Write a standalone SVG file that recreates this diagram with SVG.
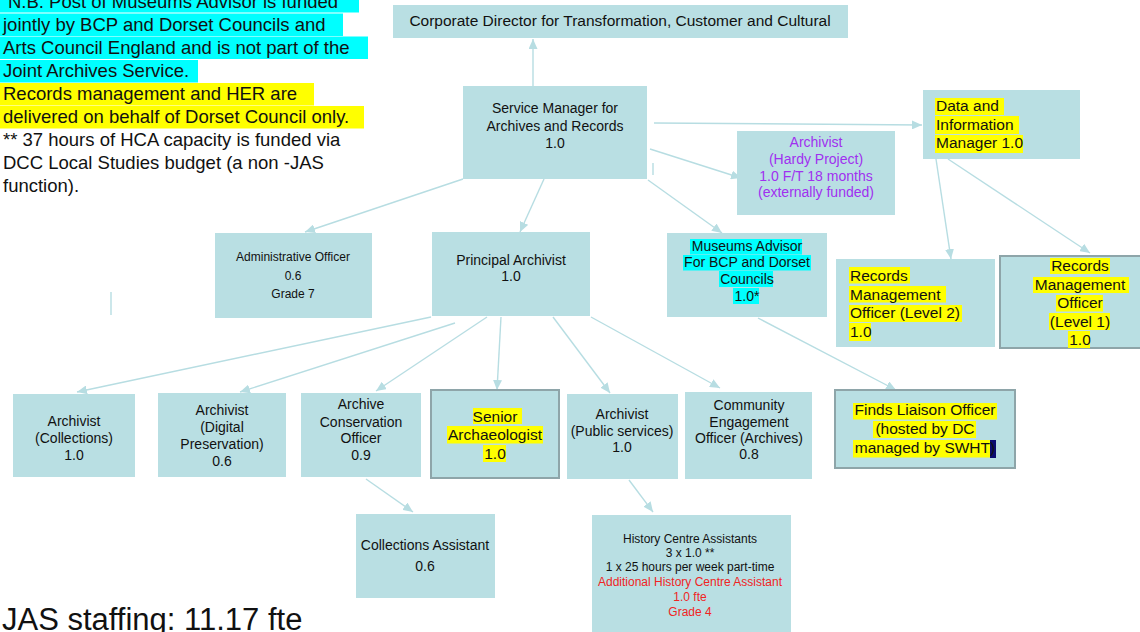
<svg xmlns="http://www.w3.org/2000/svg" width="1140" height="632" viewBox="0 0 1140 632">
  <style>
    .box { fill: #B9DFE3; }
    .framed { fill: #B9DFE3; stroke: #8EA5A9; stroke-width: 2; }
    .t { font-family: "Liberation Sans", Arial, sans-serif; fill: #111; text-anchor: middle; font-size: 14px; }
    .s { font-size: 12px; }
    .big { font-size: 15.5px; }
    .left { text-anchor: start; }
    .purple { fill: #A030F0; }
    .red { fill: #F02424; }
    .yl { fill: #FFFF00; }
    .cy { fill: #00FFFF; }
    .note { font-family: "Liberation Sans", Arial, sans-serif; fill: #111; font-size: 18.5px; }
    .link { stroke: #B7DDE2; stroke-width: 1.4; fill: none; marker-end: url(#arrow); }
    .plain { stroke: #B7DDE2; stroke-width: 1.4; fill: none; }
  </style>
  <defs>
    <marker id="arrow" viewBox="0 0 10 9" refX="10" refY="4.5" markerWidth="10" markerHeight="9" markerUnits="userSpaceOnUse" orient="auto">
      <path d="M0,0 L10,4.5 L0,9 z" fill="#B7DDE2"/>
    </marker>
  </defs>

  <rect width="1140" height="632" fill="#FFFFFF"/>

  <!-- funding notes -->
  <g id="notes">
    <rect class="cy" x="0" y="-10" width="359" height="22.5"/>
    <rect class="cy" x="0" y="13.5" width="343" height="22.5"/>
    <rect class="cy" x="0" y="36.5" width="368" height="22.5"/>
    <rect class="cy" x="0" y="60" width="198" height="22.5"/>
    <rect class="yl" x="0" y="83" width="314" height="22.5"/>
    <rect class="yl" x="0" y="106" width="364" height="22.5"/>
    <text class="note" x="8" y="8">N.B. Post of Museums Advisor is funded</text>
    <text class="note" x="3" y="31">jointly by BCP and Dorset Councils and</text>
    <text class="note" x="3" y="54">Arts Council England and is not part of the</text>
    <text class="note" x="3" y="77">Joint Archives Service.</text>
    <text class="note" x="3" y="100">Records management and HER are</text>
    <text class="note" x="3" y="123">delivered on behalf of Dorset Council only.</text>
    <text class="note" x="3" y="146">** 37 hours of HCA capacity is funded via</text>
    <text class="note" x="3" y="169">DCC Local Studies budget (a non -JAS</text>
    <text class="note" x="3" y="192">function).</text>
  </g>

  <g id="total">
    <text class="note" x="2" y="630" style="font-size:31px">JAS staffing: 11.17 fte</text>
  </g>

  <!-- reporting lines -->
  <g id="connectors">
    <line class="link" x1="533" y1="86" x2="533" y2="39"/>
    <line class="link" x1="654" y1="123" x2="922" y2="125"/>
    <line class="link" x1="650" y1="149" x2="741" y2="178"/>
    <line class="plain" x1="653" y1="163" x2="653" y2="175"/>
    <line class="link" x1="463" y1="179" x2="305" y2="232"/>
    <line class="link" x1="544" y1="179" x2="520" y2="232"/>
    <line class="link" x1="648" y1="180" x2="722" y2="233"/>
    <line class="link" x1="936" y1="159" x2="951" y2="259"/>
    <line class="link" x1="948" y1="159" x2="1090" y2="253"/>
    <line class="link" x1="758" y1="318" x2="896" y2="390"/>
    <line class="link" x1="431" y1="317" x2="77" y2="392"/>
    <line class="link" x1="455" y1="323" x2="240" y2="392"/>
    <line class="link" x1="487" y1="317" x2="376" y2="391"/>
    <line class="link" x1="501" y1="317" x2="497" y2="390"/>
    <line class="link" x1="553" y1="317" x2="610" y2="393"/>
    <line class="link" x1="591" y1="317" x2="720" y2="388"/>
    <line class="link" x1="366" y1="479" x2="413" y2="512"/>
    <line class="link" x1="629" y1="480" x2="653" y2="512"/>
    <line class="plain" x1="111" y1="292" x2="111" y2="315"/>
  </g>

  <g id="corporate-director">
    <rect class="box" x="393" y="5" width="455" height="33"/>
    <text class="t" x="620" y="26" style="font-size:15.5px">Corporate Director for Transformation, Customer and Cultural</text>
  </g>

  <g id="service-manager">
    <rect class="box" x="463" y="86" width="184" height="93"/>
    <text class="t" x="555" y="113">Service Manager for</text>
    <text class="t" x="555" y="131">Archives and Records</text>
    <text class="t" x="555" y="148">1.0</text>
  </g>

  <g id="archivist-hardy">
    <rect class="box" x="737" y="131" width="158" height="84"/>
    <text class="t purple" x="816" y="147">Archivist</text>
    <text class="t purple" x="816" y="164">(Hardy Project)</text>
    <text class="t purple" x="816" y="181">1.0 F/T 18 months</text>
    <text class="t purple" x="816" y="197">(externally funded)</text>
  </g>

  <g id="data-information-manager">
    <rect class="box" x="923" y="90" width="157" height="69"/>
    <rect class="yl" x="935" y="98" width="69" height="17"/>
    <rect class="yl" x="935" y="116" width="84" height="18"/>
    <rect class="yl" x="935" y="135" width="88" height="18"/>
    <text class="t big left" x="936" y="111">Data and</text>
    <text class="t big left" x="936" y="130">Information</text>
    <text class="t big left" x="936" y="148">Manager 1.0</text>
  </g>

  <g id="administrative-officer">
    <rect class="box" x="215" y="233" width="157" height="85"/>
    <text class="t s" x="293" y="261">Administrative Officer</text>
    <text class="t s" x="293" y="280">0.6</text>
    <text class="t s" x="293" y="298">Grade 7</text>
  </g>

  <g id="principal-archivist">
    <rect class="box" x="432" y="232" width="158" height="84"/>
    <text class="t" x="511" y="265">Principal Archivist</text>
    <text class="t" x="511" y="281">1.0</text>
  </g>

  <g id="museums-advisor">
    <rect class="box" x="667" y="233" width="160" height="84"/>
    <rect class="cy" x="690" y="239" width="112" height="15.5"/>
    <rect class="cy" x="683" y="255" width="128" height="15.5"/>
    <rect class="cy" x="719" y="271" width="54" height="16"/>
    <rect class="cy" x="733" y="288" width="26" height="16"/>
    <text class="t" x="747" y="251">Museums Advisor</text>
    <text class="t" x="747" y="267">For BCP and Dorset</text>
    <text class="t" x="747" y="284">Councils</text>
    <text class="t" x="747" y="301">1.0*</text>
  </g>

  <g id="records-officer-level-2">
    <rect class="box" x="836" y="259" width="159" height="88"/>
    <rect class="yl" x="849" y="267" width="61" height="16.5"/>
    <rect class="yl" x="849" y="286" width="97" height="16.5"/>
    <rect class="yl" x="849" y="305" width="113" height="17"/>
    <rect class="yl" x="849" y="323" width="22" height="18"/>
    <text class="t big left" x="850" y="281">Records</text>
    <text class="t big left" x="850" y="300">Management</text>
    <text class="t big left" x="850" y="318">Officer (Level 2)</text>
    <text class="t big left" x="850" y="337">1.0</text>
  </g>

  <g id="records-officer-level-1">
    <rect class="framed" x="1000" y="256" width="146" height="92"/>
    <rect class="yl" x="1050" y="258" width="60" height="16"/>
    <rect class="yl" x="1033" y="277" width="96" height="16"/>
    <rect class="yl" x="1056" y="295" width="47" height="16.5"/>
    <rect class="yl" x="1049" y="313" width="61" height="17"/>
    <rect class="yl" x="1068" y="331" width="22" height="17"/>
    <text class="t big" x="1080" y="271">Records</text>
    <text class="t big" x="1080" y="290">Management</text>
    <text class="t big" x="1080" y="308">Officer</text>
    <text class="t big" x="1080" y="327">(Level 1)</text>
    <text class="t big" x="1080" y="345">1.0</text>
  </g>

  <g id="archivist-collections">
    <rect class="box" x="13" y="394" width="122" height="83"/>
    <text class="t" x="74" y="426">Archivist</text>
    <text class="t" x="74" y="443">(Collections)</text>
    <text class="t" x="74" y="460">1.0</text>
  </g>

  <g id="archivist-digital">
    <rect class="box" x="158" y="393" width="128" height="84"/>
    <text class="t" x="222" y="415">Archivist</text>
    <text class="t" x="222" y="432">(Digital</text>
    <text class="t" x="222" y="449">Preservation)</text>
    <text class="t" x="222" y="466">0.6</text>
  </g>

  <g id="archive-conservation-officer">
    <rect class="box" x="301" y="393" width="120" height="84"/>
    <text class="t" x="361" y="409">Archive</text>
    <text class="t" x="361" y="427">Conservation</text>
    <text class="t" x="361" y="443">Officer</text>
    <text class="t" x="361" y="460">0.9</text>
  </g>

  <g id="senior-archaeologist">
    <rect class="framed" x="431" y="390" width="128" height="88"/>
    <rect class="yl" x="473" y="408" width="49" height="16"/>
    <rect class="yl" x="447" y="426" width="96" height="17.5"/>
    <rect class="yl" x="483" y="445" width="23" height="17"/>
    <text class="t big" x="495" y="422">Senior</text>
    <text class="t big" x="495" y="440">Archaeologist</text>
    <text class="t big" x="495" y="459">1.0</text>
  </g>

  <g id="archivist-public-services">
    <rect class="box" x="567" y="394" width="111" height="85"/>
    <text class="t" x="622" y="419">Archivist</text>
    <text class="t" x="622" y="436">(Public services)</text>
    <text class="t" x="622" y="452">1.0</text>
  </g>

  <g id="community-engagement-officer">
    <rect class="box" x="685" y="392" width="127" height="87"/>
    <text class="t" x="749" y="410">Community</text>
    <text class="t" x="749" y="427">Engagement</text>
    <text class="t" x="749" y="443">Officer (Archives)</text>
    <text class="t" x="749" y="459">0.8</text>
  </g>

  <g id="finds-liaison-officer">
    <rect class="framed" x="835" y="390" width="180" height="78"/>
    <rect class="yl" x="853" y="403" width="144" height="16.5"/>
    <rect class="yl" x="873" y="421" width="103" height="17"/>
    <rect class="yl" x="853" y="440" width="143" height="17.5"/>
    <rect x="990" y="440" width="6" height="18" fill="#0B0B70"/>
    <text class="t big" x="925" y="415">Finds Liaison Officer</text>
    <text class="t big" x="925" y="434">(hosted by DC</text>
    <text class="t big" x="925" y="453">managed by SWHT)</text>
  </g>

  <g id="collections-assistant">
    <rect class="box" x="356" y="514" width="139" height="84"/>
    <text class="t" x="425" y="550">Collections Assistant</text>
    <text class="t" x="425" y="571">0.6</text>
  </g>

  <g id="history-centre-assistants">
    <rect class="box" x="592" y="515" width="199" height="125"/>
    <text class="t s" x="690" y="543">History Centre Assistants</text>
    <text class="t s" x="690" y="557">3 x 1.0 **</text>
    <text class="t s" x="690" y="571">1 x 25 hours per week part-time</text>
    <text class="t s red" x="690" y="586">Additional History Centre Assistant</text>
    <text class="t s red" x="690" y="601">1.0 fte</text>
    <text class="t s red" x="690" y="616">Grade 4</text>
  </g>
</svg>
